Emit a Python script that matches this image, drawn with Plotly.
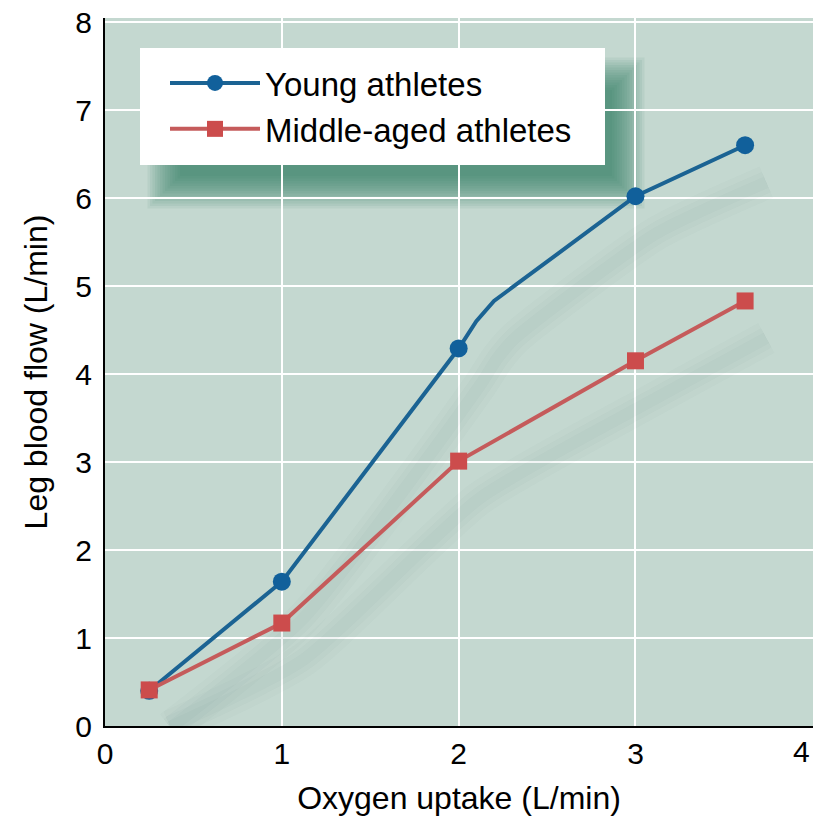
import plotly.graph_objects as go

# ---- data ----
young_x = [0.25, 1.0, 2.0, 2.1, 2.2, 3.0, 3.62]
young_y = [0.40, 1.64, 4.29, 4.60, 4.83, 6.02, 6.60]
young_marked = [True, True, True, False, False, True, True]

middle_x = [0.25, 1.0, 2.0, 3.0, 3.62]
middle_y = [0.41, 1.17, 3.01, 4.15, 4.83]

x_ticks = [0, 1, 2, 3, 4]
y_ticks = [0, 1, 2, 3, 4, 5, 6, 7, 8]

series_names = ["Young athletes", "Middle-aged athletes"]
x_title = "Oxygen uptake (L/min)"
y_title = "Leg blood flow (L/min)"

# ---- style ----
BLUE = "#11609b"
BLUE_LINE = "#1b6393"
RED = "#cc4c4c"
RED_LINE = "#c55b5b"
BG = "#c4d8d0"
FONT = "Liberation Sans, Arial, sans-serif"

W, H = 813, 816
ML, MR, MT, MB = 105, 0, 18, 90
PW, PH = W - ML - MR, H - MT - MB


def px2paper(px, py):
    return (px - ML) / PW, (H - MB - py) / PH


fig = go.Figure()

# very soft line shadows
for xs, ys in [(young_x, young_y), (middle_x, middle_y)]:
    sx = [v + 0.12 for v in xs]
    sy = [v - 0.42 for v in ys]
    for w, a in [(34, 0.018), (22, 0.022), (12, 0.025)]:
        fig.add_trace(go.Scatter(x=sx, y=sy, mode="lines",
                                 line=dict(color=f"rgba(30,95,85,{a})", width=w, shape="spline", smoothing=0.6),
                                 showlegend=False, hoverinfo="skip"))

# young athletes: line, markers, legend entry
young_mx = [x for x, m in zip(young_x, young_marked) if m]
young_my = [y for y, m in zip(young_y, young_marked) if m]
fig.add_trace(go.Scatter(x=young_x, y=young_y, mode="lines",
                         line=dict(color=BLUE_LINE, width=4), showlegend=False, hoverinfo="skip"))
fig.add_trace(go.Scatter(x=young_mx, y=young_my, mode="markers", name=series_names[0],
                         marker=dict(symbol="circle", color=BLUE, size=18), showlegend=False))
fig.add_trace(go.Scatter(x=[None], y=[None], mode="lines+markers", name=series_names[0],
                         line=dict(color=BLUE_LINE, width=4),
                         marker=dict(symbol="circle", color=BLUE, size=18), legendgroup="a"))
# middle-aged athletes
fig.add_trace(go.Scatter(
    x=middle_x, y=middle_y, mode="lines+markers", name=series_names[1],
    line=dict(color=RED_LINE, width=4),
    marker=dict(symbol="square", color=RED, size=17),
    legendgroup="b",
))

shapes = []
# legend shadow (stacked translucent rects to fake blur)
for i in range(14):
    e = i * 2.5
    x0, y0 = px2paper(180 - e, 90 - e)
    x1, y1 = px2paper(612 + e, 176 + e)
    shapes.append(dict(type="rect", xref="paper", yref="paper", x0=x0, y0=y1, x1=x1, y1=y0,
                       line=dict(width=0), fillcolor="rgba(40,115,98,0.075)", layer="below"))
# legend white box
bx0, by0 = px2paper(140, 48)
bx1, by1 = px2paper(605, 165)
shapes.append(dict(type="rect", xref="paper", yref="paper", x0=bx0, y0=by1, x1=bx1, y1=by0,
                   line=dict(width=0), fillcolor="white", layer="between"))

lx, ly = px2paper(165, 55)

# the last x tick label sits at the figure edge; anchor it right so it stays visible
last_tick = x_ticks[-1]
annotations = [dict(text=str(last_tick), x=last_tick, xref="x", y=-0.0367, yref="paper",
                    xanchor="right", yanchor="middle", showarrow=False,
                    font=dict(size=30, family=FONT, color="black"))]

fig.update_layout(
    width=W, height=H,
    margin=dict(l=ML, r=MR, t=MT, b=MB, pad=0),
    paper_bgcolor="white",
    plot_bgcolor=BG,
    font=dict(family=FONT, color="black"),
    shapes=shapes,
    annotations=annotations,
    legend=dict(x=lx, y=ly, xanchor="left", yanchor="top",
                bgcolor="rgba(0,0,0,0)", borderwidth=0,
                font=dict(size=33, family=FONT, color="black"),
                itemwidth=90, itemsizing="trace", tracegroupgap=18,
                traceorder="normal"),
    xaxis=dict(range=[0, 4.004], tickvals=x_ticks[:-1], ticktext=[str(v) for v in x_ticks[:-1]],
               showgrid=True, gridcolor="white", gridwidth=2,
               showline=True, linecolor="black", linewidth=2,
               ticks="", zeroline=False,
               tickfont=dict(size=30), ticklabelstandoff=0,
               title=dict(text=x_title, font=dict(size=32), standoff=20)),
    yaxis=dict(range=[0, (H - MB - MT) / 88.0], tickvals=y_ticks, ticktext=[str(v) for v in y_ticks],
               showgrid=True, gridcolor="white", gridwidth=2,
               showline=True, linecolor="black", linewidth=2,
               ticks="", zeroline=False,
               tickfont=dict(size=30), ticklabelstandoff=5,
               title=dict(text=y_title, font=dict(size=32), standoff=18)),
)

fig.write_html("out.html")
